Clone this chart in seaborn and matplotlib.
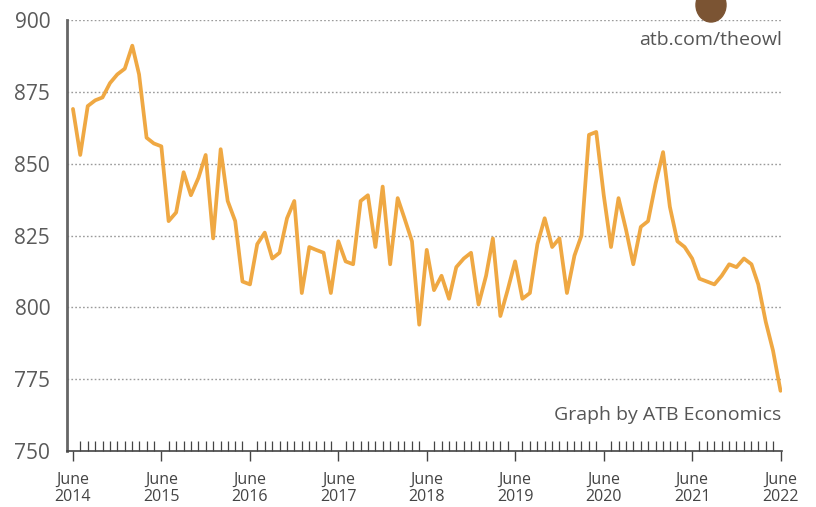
import matplotlib
matplotlib.use('Agg')
import matplotlib.pyplot as plt
import matplotlib.dates as mdates
from matplotlib.patches import Ellipse
import pandas as pd
import seaborn as sns

# monthly values, June 2014 -> June 2022
values_2014 = [869, 853, 870, 872, 873, 878, 881]
values_2015 = [883, 891, 881, 859, 857, 856, 830, 833, 847, 839, 845, 853]
values_2016 = [824, 855, 837, 830, 809, 808, 822, 826, 817, 819, 831, 837]
values_2017 = [805, 821, 820, 819, 805, 823, 816, 815, 837, 839, 821, 842]
values_2018 = [815, 838, 831, 823, 794, 820, 806, 811, 803, 814, 817, 819]
values_2019 = [801, 811, 824, 797, 806, 816, 803, 805, 822, 831, 821, 824]
values_2020 = [805, 818, 825, 860, 861, 839, 821, 838, 827, 815, 828, 830]
values_2021 = [843, 854, 835, 823, 821, 817, 810, 809, 808, 811, 815, 814]
values_2022 = [817, 815, 808, 795, 785, 771]

y_ticks = [750, 775, 800, 825, 850, 875, 900]
grid_levels = [775, 800, 825, 850, 875, 900]

values = (values_2014 + values_2015 + values_2016 + values_2017 + values_2018
          + values_2019 + values_2020 + values_2021 + values_2022)
dates = pd.date_range('2014-06-01', periods=len(values), freq='MS')
df = pd.DataFrame({'date': dates, 'value': values})

sns.set_style('white')
plt.rcParams['font.family'] = ['Open Sans', 'DejaVu Sans']

fig = plt.figure(figsize=(8.16, 5.07), dpi=100)
ax = fig.add_axes([0.082, 0.11, 0.876, 0.851])

for lv in grid_levels:
    ax.axhline(lv, color='#9a9a9a', lw=1.0, ls=(0, (1.2, 1.6)), zorder=1)

sns.lineplot(data=df, x='date', y='value', color='#EFA843', lw=2.7, ax=ax, zorder=3)

ax.set_ylim(750, 900)
ax.set_xlim(pd.Timestamp('2014-05-07'), pd.Timestamp('2022-06-06'))
ax.set_yticks(y_ticks)
ax.set_xlabel('')
ax.set_ylabel('')

ax.xaxis.set_major_locator(mdates.MonthLocator(bymonth=6))
ax.xaxis.set_major_formatter(mdates.DateFormatter('June\n%Y'))
ax.xaxis.set_minor_locator(mdates.MonthLocator())

ax.tick_params(axis='x', which='both', bottom=True)
ax.tick_params(axis='x', which='major', direction='out', length=7, width=1,
               color='#444444', labelsize=11.5, labelcolor='#444444', pad=8)
ax.tick_params(axis='x', which='minor', direction='in', length=7, width=0.9,
               color='#444444')
ax.tick_params(axis='y', length=0, labelsize=15, labelcolor='#5a5a5a', pad=12)
for lab in ax.get_xticklabels():
    lab.set_linespacing(1.1)

for s in ['top', 'right']:
    ax.spines[s].set_visible(False)
ax.spines['left'].set_color('#666666')
ax.spines['left'].set_linewidth(2)
ax.spines['bottom'].set_color('#444444')
ax.spines['bottom'].set_linewidth(1.2)

ax.text(1.0, 0.952, 'atb.com/theowl', transform=ax.transAxes, ha='right',
        va='center', fontsize=14, color='#555555')
ax.text(1.0, 0.083, 'Graph by ATB Economics', transform=ax.transAxes,
        ha='right', va='center', fontsize=14, color='#555555')

# owl logo stand-in
fig.patches.append(Ellipse((711 / 816, 1 - 5 / 507), 30 / 816, 34 / 507,
                           transform=fig.transFigure, color='#7b5433'))

fig.savefig('out.png', dpi=100)
